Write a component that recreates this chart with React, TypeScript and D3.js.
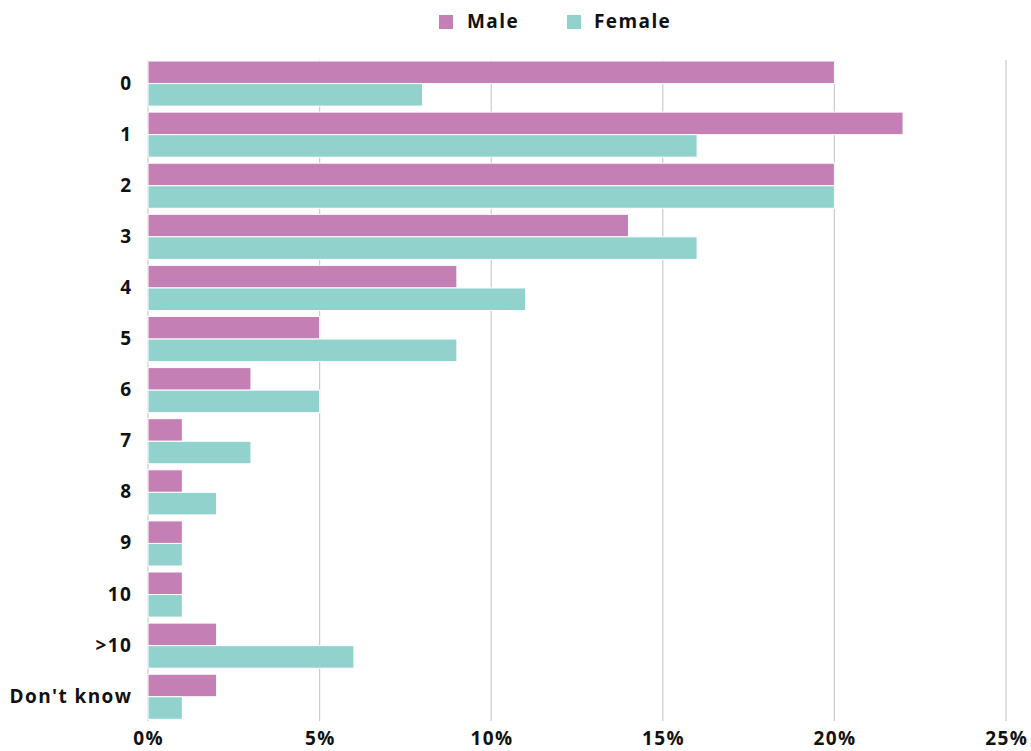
import React from "react";
import * as d3 from "d3";

const categories = ["0", "1", "2", "3", "4", "5", "6", "7", "8", "9", "10", ">10", "Don't know"];
const maleValues = [20, 22, 20, 14, 9, 5, 3, 1, 1, 1, 1, 2, 2];
const femaleValues = [8, 16, 20, 16, 11, 9, 5, 3, 2, 1, 1, 6, 1];
const xTicks = [0, 5, 10, 15, 20, 25];
const seriesNames = ["Male", "Female"];
const colors = ["#C47FB4", "#91D2CD"];

const W = 1031;
const H = 751;
const FONT = "'Open Sans', Lato, sans-serif";
const LS = 1.4;

export default function App() {
  const x = d3.scaleLinear().domain([0, 25]).range([148, 1006]);
  const y = d3.scaleBand<string>().domain(categories).range([58, 722.3]).padding(0);
  const step = y.step();
  const inner = d3.scaleBand<string>().domain(seriesNames).range([3, step - 3]).padding(0);
  const series = [maleValues, femaleValues];

  return (
    <svg width={W} height={H} style={{ position: "absolute", left: 0, top: 0, display: "block" }}>
      <rect width={W} height={H} fill="#fff" />
      {xTicks.map((t) => (
        <line key={"g" + t} x1={x(t)} x2={x(t)} y1={60} y2={721} stroke="#cccccc" strokeWidth={1.2} />
      ))}
      {categories.map((c, i) => (
        <g key={c} transform={`translate(0,${y(c)})`}>
          {series.map((vals, s) => (
            <rect
              key={s}
              x={x(0)}
              y={inner(seriesNames[s])!}
              width={x(vals[i]) - x(0)}
              height={inner.bandwidth()}
              fill={colors[s]}
              stroke="#fff"
              strokeWidth={1}
            />
          ))}
        </g>
      ))}
      {categories.map((c) => (
        <text
          key={"l" + c}
          x={131 + LS}
          y={y(c)! + step / 2 - 1}
          textAnchor="end"
          dominantBaseline="central"
          fontFamily={FONT}
          fontWeight={700}
          fontSize={19}
          letterSpacing={LS}
          fill="#111"
        >
          {c}
        </text>
      ))}
      {xTicks.map((t) => (
        <text
          key={"t" + t}
          x={x(t) + LS / 2}
          y={745}
          textAnchor="middle"
          fontFamily={FONT}
          fontWeight={700}
          fontSize={19}
          letterSpacing={LS}
          fill="#111"
        >
          {t + "%"}
        </text>
      ))}
      <g>
        <rect x={439} y={15} width={14} height={14} fill={colors[0]} />
        <text x={467} y={28} fontFamily={FONT} fontWeight={700} fontSize={19} letterSpacing={LS} fill="#111">
          {seriesNames[0]}
        </text>
        <rect x={567} y={15} width={14} height={14} fill={colors[1]} />
        <text x={594} y={28} fontFamily={FONT} fontWeight={700} fontSize={19} letterSpacing={LS} fill="#111">
          {seriesNames[1]}
        </text>
      </g>
    </svg>
  );
}
